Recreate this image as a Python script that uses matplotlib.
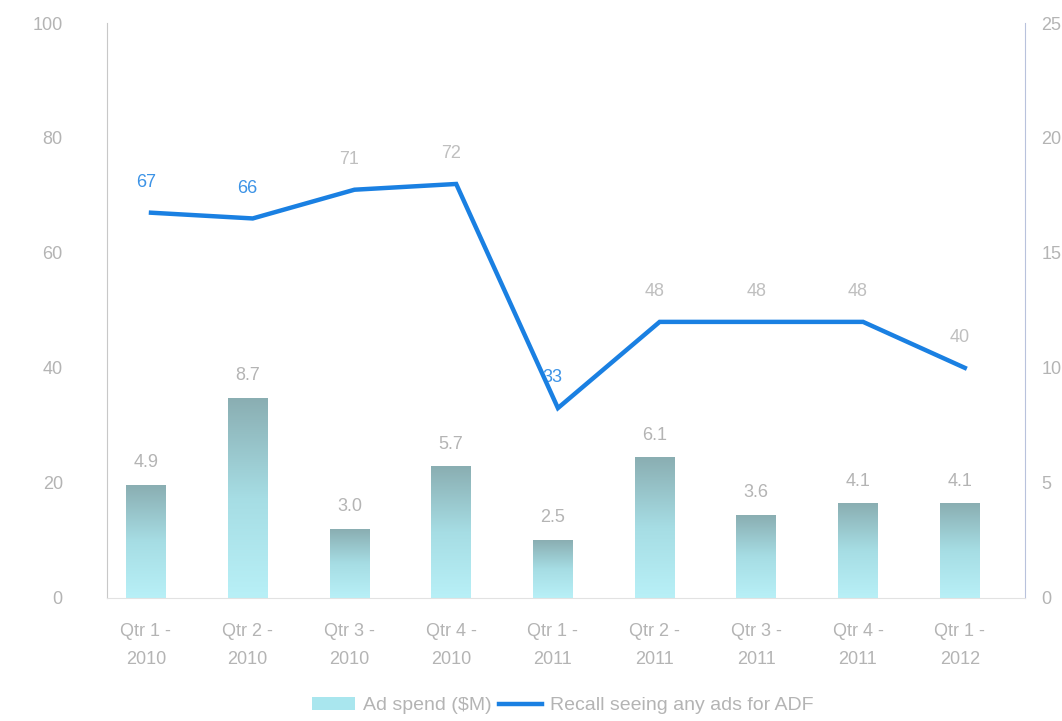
import numpy as np
import matplotlib
matplotlib.use("Agg")
import matplotlib.pyplot as plt
from matplotlib.patches import Patch
from matplotlib.lines import Line2D
from matplotlib.colors import LinearSegmentedColormap

# ---- data ----
quarters = ["Qtr 1 -\n2010", "Qtr 2 -\n2010", "Qtr 3 -\n2010", "Qtr 4 -\n2010",
            "Qtr 1 -\n2011", "Qtr 2 -\n2011", "Qtr 3 -\n2011", "Qtr 4 -\n2011",
            "Qtr 1 -\n2012"]
ad_spend = [4.9, 8.7, 3.0, 5.7, 2.5, 6.1, 3.6, 4.1, 4.1]
recall = [67, 66, 71, 72, 33, 48, 48, 48, 40]
left_ticks = [0, 20, 40, 60, 80, 100]
right_ticks = [0, 5, 10, 15, 20, 25]

GRAY = "#b4b4b4"
BLUE = "#1a80e2"

plt.rcParams["font.family"] = ["Liberation Sans", "DejaVu Sans"]

fig = plt.figure(figsize=(10.62, 7.21), dpi=100)
ax = fig.add_axes([0.101, 0.171, 0.864, 0.797])
ax2 = ax.twinx()

x = np.arange(len(quarters))
bar_w = 0.39

# bars with a vertical gradient (teal-gray top, light cyan bottom)
grad_cmap = LinearSegmentedColormap.from_list("bar", ["#b8f0f7", "#a6dde4", "#8aaeb2"])
grad = np.linspace(0, 1, 256).reshape(-1, 1)
for xi, v in zip(x, ad_spend):
    ax2.imshow(grad, extent=[xi - bar_w / 2, xi + bar_w / 2, 0, v], origin="lower",
               aspect="auto", cmap=grad_cmap, zorder=1)
    ax2.text(xi, v + 0.6, f"{v:.1f}", ha="center", va="bottom", fontsize=13, color=GRAY)

ax2.set_ylim(0, 25)
ax2.set_xlim(-0.38, 8.64)

# recall line on the left axis, drawn above the bars
ax.set_zorder(ax2.get_zorder() + 1)
ax.patch.set_visible(False)
ax.plot(x + 0.05, recall, color=BLUE, lw=3.2, solid_joinstyle="miter", zorder=3)
label_colors = [BLUE, BLUE, GRAY, GRAY, BLUE, GRAY, GRAY, GRAY, GRAY]
for xi, v, c in zip(x, recall, label_colors):
    ax.text(xi, v + 3.8, str(v), ha="center", va="bottom", fontsize=13, color=c, alpha=0.85)

ax.set_ylim(0, 100)
ax.set_xlim(-0.38, 8.64)
ax.set_yticks(left_ticks)
ax2.set_yticks(right_ticks)
ax.set_xticks(x)
ax.set_xticklabels(quarters, fontsize=14, color=GRAY, linespacing=1.9)

for a in (ax, ax2):
    a.tick_params(axis="both", length=0, labelsize=13, labelcolor=GRAY)
    for s in a.spines.values():
        s.set_visible(False)
ax.tick_params(axis="y", pad=32)
ax2.tick_params(axis="y", pad=12)
ax.tick_params(axis="x", pad=18)

ax.spines["left"].set_visible(True)
ax.spines["left"].set_color("#c8c8c8")
ax2.spines["right"].set_visible(True)
ax2.spines["right"].set_color("#b8c2dc")
ax.spines["bottom"].set_visible(True)
ax.spines["bottom"].set_color("#e2e2e2")

handles = [Patch(facecolor="#a9e6ee", edgecolor="none"),
           Line2D([0], [0], color=BLUE, lw=3.2)]
leg = fig.legend(handles, ["Ad spend ($M)", "Recall seeing any ads for ADF"],
                 loc="lower center", bbox_to_anchor=(0.53, -0.015), ncol=2, frameon=False,
                 fontsize=14, handlelength=2.2, columnspacing=0.4, handletextpad=0.4)
for t in leg.get_texts():
    t.set_color(GRAY)

fig.savefig("out.png", dpi=100)
